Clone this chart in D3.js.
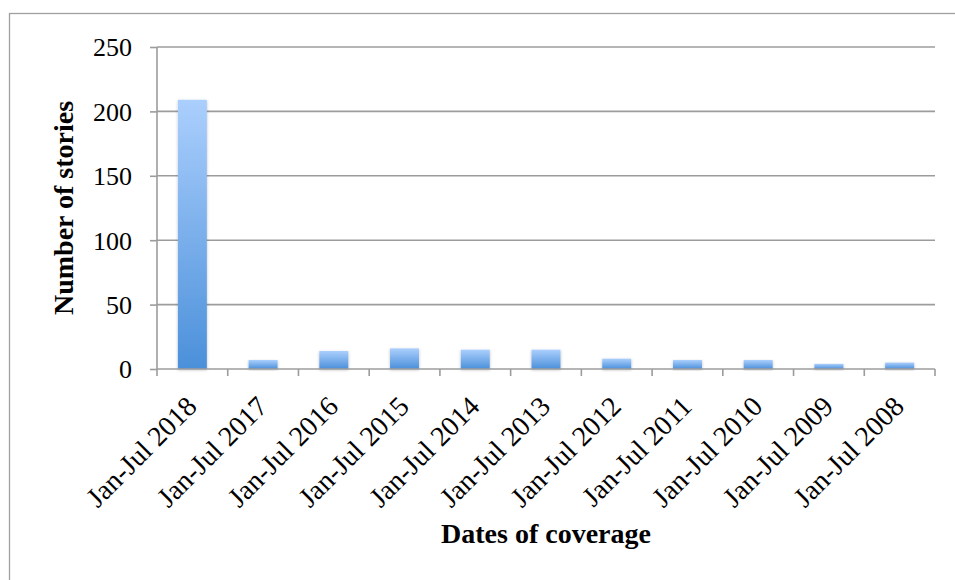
<!DOCTYPE html>
<html><head><meta charset="utf-8">
<script src="https://cdn.jsdelivr.net/npm/d3@7"></script>
<style>body{margin:0;background:#fff}svg{display:block}</style>
</head><body>
<script>
const categories = ["Jan-Jul 2018","Jan-Jul 2017","Jan-Jul 2016","Jan-Jul 2015","Jan-Jul 2014","Jan-Jul 2013","Jan-Jul 2012","Jan-Jul 2011","Jan-Jul 2010","Jan-Jul 2009","Jan-Jul 2008"];
const stories = [209, 7, 14, 16, 15, 15, 8, 7, 7, 4, 5];
const yTicks = [0, 50, 100, 150, 200, 250];
const yTitle = "Number of stories";
const xTitle = "Dates of coverage";

const W = 955, H = 580;
const font = "'Liberation Serif', 'DejaVu Serif', serif";
const svg = d3.select("body").append("svg").attr("width", W).attr("height", H);

const defs = svg.append("defs");
const grad = defs.append("linearGradient").attr("id","barg").attr("x1",0).attr("y1",0).attr("x2",0).attr("y2",1);
grad.append("stop").attr("offset","0%").attr("stop-color","#abcffd");
grad.append("stop").attr("offset","100%").attr("stop-color","#4b90da");
const f = defs.append("filter").attr("id","sh").attr("x","-30%").attr("y","-10%").attr("width","160%").attr("height","130%");
f.append("feDropShadow").attr("dx",0).attr("dy",1).attr("stdDeviation",1.5).attr("flood-color","#000").attr("flood-opacity",0.25);

// chart border
svg.append("rect").attr("x",9.5).attr("y",13.5).attr("width",W+20).attr("height",H+20)
  .attr("fill","none").attr("stroke","#a0a0a0").attr("stroke-width",1.3);

const m = {left:157, right:935, top:47, bottom:369};
const x = d3.scaleBand().domain(categories).range([m.left, m.right]).paddingInner(0.59).paddingOuter(0.295);
const xb = d3.scaleBand().domain(categories).range([m.left, m.right]);
const y = d3.scaleLinear().domain([0,250]).range([m.bottom, m.top]);

// gridlines
svg.append("g").selectAll("line").data(yTicks.filter(t=>t>0)).join("line")
  .attr("x1", m.left).attr("x2", m.right).attr("y1", d=>y(d)).attr("y2", d=>y(d))
  .attr("stroke","#9c9c9c").attr("stroke-width",1.6);

// bars
svg.append("g").selectAll("rect").data(stories).join("rect")
  .attr("x",(d,i)=>x(categories[i])).attr("width",x.bandwidth())
  .attr("y",d=>y(d)).attr("height",d=>y(0)-y(d))
  .attr("fill","url(#barg)").attr("filter","url(#sh)");

// y axis
const ya = svg.append("g").attr("transform",`translate(${m.left},0)`)
  .call(d3.axisLeft(y).tickValues(yTicks).tickSize(7).tickPadding(18));
ya.select(".domain").attr("stroke","#9c9c9c").attr("stroke-width",1.6).attr("d",`M0,${m.top}V${m.bottom}`);
ya.selectAll(".tick line").attr("stroke","#9c9c9c").attr("stroke-width",1.6);
ya.selectAll("text").attr("font-family",font).attr("font-size",26).attr("fill","#000").attr("dy","0.34em");

// x axis
const xa = svg.append("g").attr("transform",`translate(0,${m.bottom})`);
xa.append("line").attr("x1",m.left).attr("x2",m.right).attr("stroke","#9c9c9c").attr("stroke-width",1.6);
const edges = categories.map(c=>xb(c)).concat([m.right]);
xa.selectAll("line.t").data(edges).join("line").attr("class","t")
  .attr("x1",d=>d).attr("x2",d=>d).attr("y1",0).attr("y2",7)
  .attr("stroke","#9c9c9c").attr("stroke-width",1.6);
xa.selectAll("text").data(categories).join("text")
  .attr("transform",d=>`translate(${xb(d)+xb.bandwidth()/2+6},${39}) rotate(-45)`)
  .attr("text-anchor","end").attr("font-family",font).attr("font-size",28).attr("fill","#000")
  .text(d=>d);

// titles
svg.append("text").attr("transform",`translate(73,${(m.top+m.bottom)/2}) rotate(-90)`)
  .attr("text-anchor","middle").attr("font-family",font).attr("font-weight","bold").attr("font-size",28)
  .text(yTitle);
svg.append("text").attr("x",(m.left+m.right)/2).attr("y",543)
  .attr("text-anchor","middle").attr("font-family",font).attr("font-weight","bold").attr("font-size",28)
  .text(xTitle);
</script>
</body></html>
